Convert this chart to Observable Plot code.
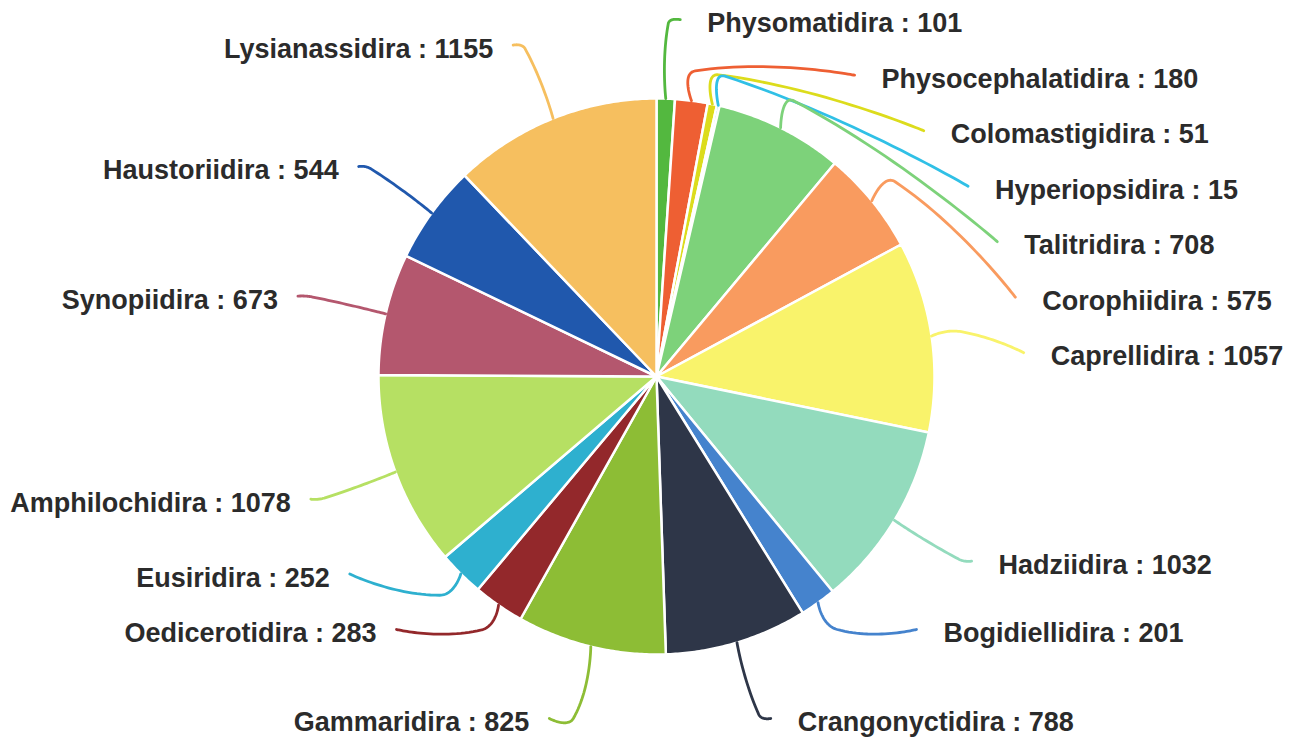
<!DOCTYPE html>
<html><head><meta charset="utf-8">
<script src="https://cdn.jsdelivr.net/npm/d3@7"></script>
<script src="https://cdn.jsdelivr.net/npm/@observablehq/plot@0.6"></script>
<style>html,body{margin:0;padding:0;background:#fff;overflow:hidden;}</style>
</head><body><div id="chart"></div>
<script>
// ---- data (clockwise from 12 o'clock) ----
const names = ["Physomatidira","Physocephalatidira","Colomastigidira","Hyperiopsidira","Talitridira","Corophiidira","Caprellidira","Hadziidira","Bogidiellidira","Crangonyctidira","Gammaridira","Oedicerotidira","Eusiridira","Amphilochidira","Synopiidira","Haustoriidira","Lysianassidira"];
const values = [101,180,51,15,708,575,1057,1032,201,788,825,283,252,1078,673,544,1155];
const colors = ["#53b83f","#ee5f33","#dcdc1c","#30c0e6","#7dd27a","#f99b5f","#f9f36b","#93dbbd","#4583cd","#2e3648","#8dbd35","#93282b","#2eb0cf","#b6e063","#b4576e","#2058ad","#f6bf5f"];

// ---- layout ----
const W = 1293, H = 738;
const cx = 656, cy = 376, r = 278;
const len1Min = 30, len1Max = 75;
const Rn = 357, Rx = 368, Ry = 357.5;
const spacing = 55.5, bottomGap = 89, topBound = 18, bottomBound = 718;
const smooth = 0.55;

const pie = d3.pie().sort(null).value(d => d)(values);
const pt = (a, rad) => [cx + rad * Math.sin(a), cy - rad * Math.cos(a)];

// slice polygons
const slicePts = [];
pie.forEach((p, i) => {
  const n = Math.max(2, Math.ceil((p.endAngle - p.startAngle) / (Math.PI / 360)));
  slicePts.push({name: names[i], x: cx, y: cy});
  for (let k = 0; k <= n; k++) {
    const a = p.startAngle + (p.endAngle - p.startAngle) * k / n;
    const [x, y] = pt(a, r);
    slicePts.push({name: names[i], x, y});
  }
  slicePts.push({name: names[i], x: cx, y: cy});
});

// label layout (shift on y per side)
const items = pie.map((p, i) => {
  const mid = (p.startAngle + p.endAngle) / 2;
  return {i, name: names[i], value: values[i], mid, right: Math.sin(mid) >= 0, y: cy - Rn * Math.cos(mid)};
});
for (const side of [true, false]) {
  const list = items.filter(d => d.right === side).sort((a, b) => a.y - b.y);
  const L = list.length;
  for (let k = 0; k < L; k++) {
    const lo = k ? list[k - 1].y + spacing : topBound;
    list[k].y = Math.max(list[k].y, lo);
  }
  for (let k = L - 1; k >= 0; k--) {
    const hi = k < L - 1 ? list[k + 1].y - (k === L - 2 ? bottomGap : spacing) : bottomBound;
    list[k].y = Math.min(list[k].y, hi);
  }
}

const linePts = [];
const labels = [];
function cubic(p0, p1, p2, p3, t) {
  const u = 1 - t;
  return [
    u*u*u*p0[0] + 3*u*u*t*p1[0] + 3*u*t*t*p2[0] + t*t*t*p3[0],
    u*u*u*p0[1] + 3*u*u*t*p1[1] + 3*u*t*t*p2[1] + t*t*t*p3[1]
  ];
}
items.forEach(d => {
  const c = -Math.cos(d.mid);
  let rad = Math.abs(c) > 1e-6 ? (d.y - cy) / c : r + len1Min;
  rad = Math.max(r + len1Min, Math.min(r + len1Max, isFinite(rad) && rad > 0 ? rad : r + len1Min));
  const P1 = pt(d.mid, r), P2 = pt(d.mid, rad);
  const dy = d.y - cy;
  const ex = Rx * Math.sqrt(Math.max(0, 1 - (dy / Ry) ** 2));
  const x = d.right ? Math.max(cx + ex, P2[0] + 12) : Math.min(cx - ex, P2[0] - 12);
  const P3 = [x, d.y];
  const v = [(P3[0] - P1[0]) * smooth, (P3[1] - P1[1]) * smooth];
  let d0 = Math.hypot(P2[0] - P1[0], P2[1] - P1[1]);
  let d1 = Math.hypot(P3[0] - P2[0], P3[1] - P2[1]);
  const s = d0 + d1; d0 /= s; d1 /= s;
  const cp0 = [P2[0] - v[0] * d0, P2[1] - v[1] * d0];
  const cp1 = [P2[0] + v[0] * d1, P2[1] + v[1] * d1];
  const N = 30;
  for (let k = 0; k <= N; k++) {
    const [px, py] = cubic(P1, P1, cp0, P2, k / N);
    linePts.push({name: d.name, x: px, y: py});
  }
  for (let k = 1; k <= N; k++) {
    const [px, py] = cubic(P2, cp1, P3, P3, k / N);
    linePts.push({name: d.name, x: px, y: py});
  }
  labels.push({name: d.name, right: d.right, x: P3[0], y: P3[1], text: `${d.name} : ${d.value}`});
});

const font = "'Liberation Sans', Arial, Helvetica, sans-serif";
const textOpts = {x: "x", y: "y", text: "text", dy: 4, fontSize: 27, fontWeight: "bold", fill: "#2b2b2b", fontFamily: font};
const chart = Plot.plot({
  width: W, height: H,
  margin: 0,
  x: {domain: [0, W], range: [0, W], axis: null},
  y: {domain: [0, H], range: [0, H], axis: null},
  color: {type: "ordinal", domain: names, range: colors},
  style: {background: "#fff"},
  marks: [
    Plot.line(slicePts, {x: "x", y: "y", z: "name", fill: "name", stroke: "#fff", strokeWidth: 2.5, strokeLinejoin: "round"}),
    Plot.line(linePts, {x: "x", y: "y", z: "name", stroke: "name", strokeWidth: 2.8, strokeLinecap: "round"}),
    Plot.text(labels.filter(d => d.right), {...textOpts, textAnchor: "start", dx: 27}),
    Plot.text(labels.filter(d => !d.right), {...textOpts, textAnchor: "end", dx: -20})
  ]
});
document.getElementById("chart").appendChild(chart);
</script>
</body></html>
